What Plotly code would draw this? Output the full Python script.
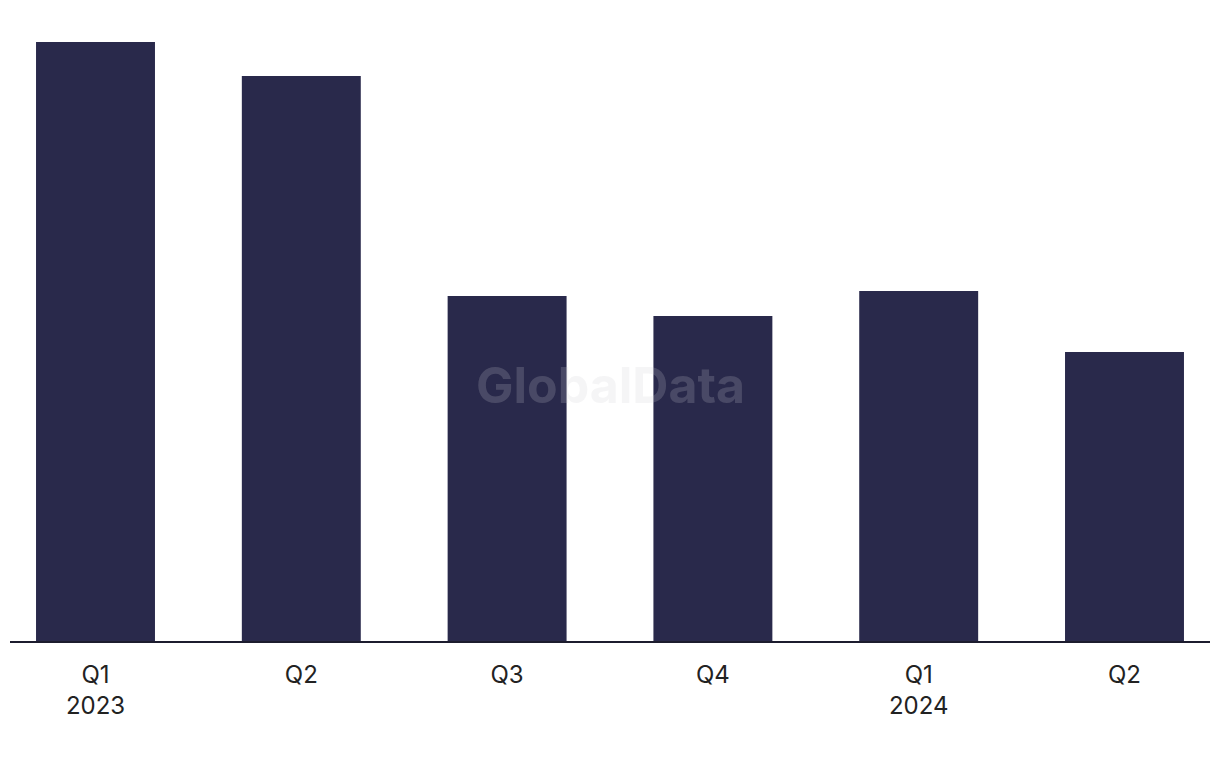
import plotly.graph_objects as go

categories = ["Q1<br>2023", "Q2", "Q3", "Q4", "Q1<br>2024", "Q2"]
values = [599, 565, 345, 325, 350, 289]

x_pos = list(range(len(categories)))

fig = go.Figure()
fig.add_trace(go.Bar(
    x=x_pos, y=values,
    marker=dict(color="#29294b", line=dict(width=0)),
    width=0.578,
    hoverinfo="skip",
))

fig.update_layout(
    width=1220, height=768,
    margin=dict(l=2, r=18, t=0, b=135),
    paper_bgcolor="white", plot_bgcolor="white",
    showlegend=False,
    font=dict(family="Inter, Liberation Sans, Arial", size=24, color="#222222"),
    xaxis=dict(
        tickmode="array", tickvals=x_pos, ticktext=categories,
        range=[-0.4155, 5.4155],
        showline=True, linecolor="#1c1c2e", linewidth=2,
        showgrid=False, zeroline=False, ticks="",
        ticklabelstandoff=11,
        tickfont=dict(size=24, color="#222222"),
    ),
    yaxis=dict(range=[0, 633], visible=False, showgrid=False, zeroline=False),
    annotations=[dict(
        text="<b>GlobalData</b>", xref="paper", yref="paper",
        x=0.5, y=(641 - 385) / 633, showarrow=False,
        font=dict(family="Inter, Liberation Sans, Arial", size=50, color="rgba(205,205,212,0.2)"),
    )],
)

fig.write_html("out.html")
